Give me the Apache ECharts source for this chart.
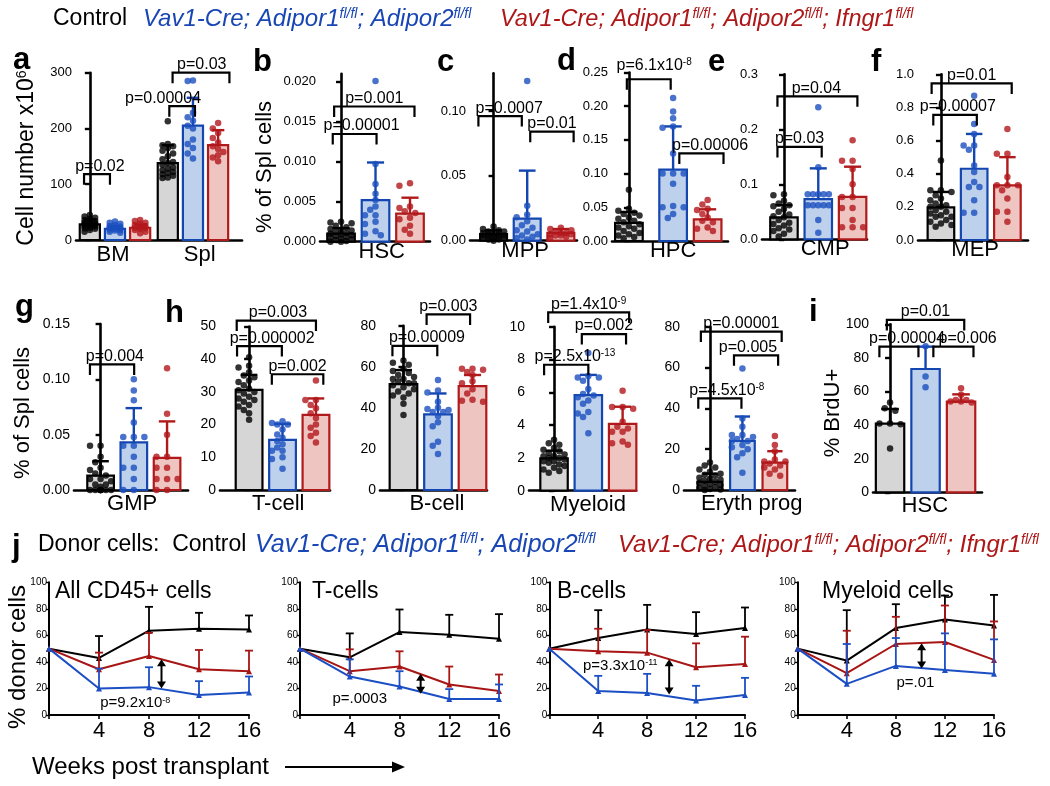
<!DOCTYPE html>
<html><head><meta charset="utf-8">
<script src="https://cdn.jsdelivr.net/npm/echarts@6/dist/echarts.min.js"></script>
<style>html,body{margin:0;padding:0;background:#fff}#c{width:1050px;height:786px}</style>
</head><body><div id="c"></div><script>
// ---------------- DATA ----------------
// Groups: 0 = Control, 1 = Vav1-Cre; Adipor1/2 (blue), 2 = + Ifngr1 (red)
// a: cell number x10^6
const aCategories = ['BM', 'Spl'];
const aMeans = [28, 20, 22, 138, 205, 170];
const aSDs = [9, 5, 6, 32, 50, 27];
const aDots = [
  [45, 42, 40, 38, 36, 34, 32, 31, 30, 29, 28, 27, 26, 25, 24, 22, 21, 20, 18, 15],
  [33, 31, 29, 27, 25, 24, 23, 22, 21, 20, 19, 18, 17, 15, 13],
  [36, 34, 31, 29, 27, 25, 23, 22, 21, 20, 18, 15, 12],
  [213, 172, 170, 168, 165, 160, 155, 150, 145, 140, 138, 135, 130, 128, 125, 122, 120, 118, 115, 112, 111],
  [286, 285, 228, 220, 214, 205, 200, 180, 172, 165, 155, 146],
  [210, 200, 192, 183, 175, 168, 163, 158, 152, 148, 141]
];
const aBrackets = [[0, 1, 118, 'p=0.02'], [3, 4, 240, 'p=0.00004'], [3, 5, 300, 'p=0.03']];

// b: HSC % of Spl cells
const bCategory = ['HSC'];
const bMeans = [0.001, 0.0052, 0.0035];
const bSDs = [0.0007, 0.0047, 0.002];
const bDots = [
  [0.0025, 0.0024, 0.0023, 0.002, 0.0018, 0.0016, 0.0015, 0.0014, 0.0012, 0.0011, 0.001, 0.0009, 0.0008, 0.0007, 0.0006, 0.0005, 0.0004, 0.0003, 0.0002, 0.0001, 0.0, 0.0],
  [0.0201, 0.0097, 0.0072, 0.006, 0.0052, 0.0044, 0.004, 0.0033, 0.0033, 0.0025, 0.0022, 0.0013, 0.001, 0.0008],
  [0.0073, 0.007, 0.0044, 0.0042, 0.0038, 0.0036, 0.003, 0.0028, 0.002, 0.0015, 0.001]
];
const bBrackets = [[0, 1, 0.01346, 'p=0.00001'], [0, 2, 0.0169, 'p=0.001']];

// c: MPP
const cCategory = ['MPP'];
const cMeans = [0.005, 0.017, 0.006];
const cSDs = [0.003, 0.037, 0.003];
const cDots = [
  [0.011, 0.009, 0.008, 0.007, 0.007, 0.006, 0.006, 0.005, 0.005, 0.004, 0.004, 0.004, 0.003, 0.003, 0.002, 0.002, 0.002, 0.001, 0.001, 0.0],
  [0.123, 0.027, 0.02, 0.018, 0.015, 0.012, 0.01, 0.008, 0.007, 0.005, 0.004, 0.003, 0.002, 0.001],
  [0.01, 0.009, 0.008, 0.007, 0.006, 0.006, 0.005, 0.005, 0.004, 0.004, 0.003, 0.002]
];
const cBrackets = [[0, 1, 0.096, 'p=0.0007'], [1, 2, 0.084, 'p=0.01']];

// d: HPC
const dCategory = ['HPC'];
const dMeans = [0.027, 0.106, 0.032];
const dSDs = [0.016, 0.064, 0.015];
const dDots = [
  [0.076, 0.048, 0.045, 0.042, 0.04, 0.038, 0.035, 0.033, 0.03, 0.028, 0.025, 0.022, 0.02, 0.018, 0.015, 0.012, 0.01, 0.008, 0.006, 0.004],
  [0.212, 0.192, 0.182, 0.17, 0.168, 0.13, 0.1, 0.1, 0.1, 0.085, 0.052, 0.05, 0.05, 0.04, 0.034],
  [0.061, 0.054, 0.048, 0.046, 0.04, 0.035, 0.03, 0.028, 0.02, 0.018, 0.015]
];
const dBrackets = [[0, 1, 0.24, 'p=6.1x10{s|-8}'], [1, 2, 0.13, 'p=0.00006']];

// e: CMP
const eCategory = ['CMP'];
const eMeans = [0.04, 0.073, 0.077];
const eSDs = [0.022, 0.056, 0.055];
const eDots = [
  [0.082, 0.08, 0.07, 0.065, 0.062, 0.06, 0.055, 0.05, 0.045, 0.042, 0.04, 0.035, 0.03, 0.028, 0.025, 0.02, 0.018, 0.015, 0.01, 0.005],
  [0.24, 0.131, 0.082, 0.082, 0.082, 0.082, 0.082, 0.062, 0.062, 0.062, 0.062, 0.062, 0.035, 0.012],
  [0.18, 0.143, 0.143, 0.128, 0.1, 0.077, 0.077, 0.057, 0.057, 0.035, 0.022, 0.022, 0.022]
];
const eBrackets = [[0, 1, 0.168, 'p=0.03'], [0, 2, 0.26, 'p=0.04']];

// f: MEP
const fCategory = ['MEP'];
const fMeans = [0.197, 0.43, 0.33];
const fSDs = [0.093, 0.21, 0.17];
const fDots = [
  [0.48, 0.3, 0.3, 0.29, 0.27, 0.25, 0.24, 0.22, 0.21, 0.2, 0.2, 0.18, 0.17, 0.16, 0.15, 0.14, 0.14, 0.12, 0.11, 0.1, 0.09, 0.08],
  [0.87, 0.7, 0.64, 0.57, 0.57, 0.545, 0.45, 0.41, 0.35, 0.32, 0.32, 0.24, 0.165, 0.165],
  [0.67, 0.52, 0.52, 0.38, 0.33, 0.33, 0.33, 0.3, 0.25, 0.17, 0.17, 0.11]
];
const fBrackets = [[0, 1, 0.755, 'p=0.00007'], [0, 2, 0.945, 'p=0.01']];

// g: GMP
const gCategory = ['GMP'];
const gMeans = [0.013, 0.043, 0.029];
const gSDs = [0.013, 0.031, 0.033];
const gDots = [
  [0.04, 0.04, 0.03, 0.025, 0.02, 0.018, 0.015, 0.013, 0.01, 0.01, 0.008, 0.005, 0.005, 0.003, 0.0, 0.0, 0.0, 0.0, 0.0, 0.0, 0.0, 0.0],
  [0.1, 0.09, 0.081, 0.061, 0.048, 0.048, 0.048, 0.04, 0.04, 0.03, 0.02, 0.02, 0.01, 0.0, 0.0],
  [0.11, 0.069, 0.05, 0.03, 0.03, 0.02, 0.02, 0.01, 0.01, 0.01, 0.0, 0.0]
];
const gBrackets = [[0, 1, 0.1135, 'p=0.004']];

// h: T-cell, B-cell, Myeloid, Eryth prog
const tCategory = ['T-cell'];
const tMeans = [30.6, 15.3, 23];
const tSDs = [4.6, 4.9, 5];
const tDots = [
  [40.6, 38, 37.5, 36, 35, 34.5, 33.5, 33, 32, 31, 30.5, 30, 29.5, 28.5, 28, 27.5, 27, 26, 25.5, 24.5, 23.5, 21.5],
  [21, 20.5, 20, 20, 18.5, 17, 16, 15, 14, 13, 12, 12, 10, 9.5, 6.5],
  [33.5, 27.5, 27.5, 26, 25, 23.5, 22, 20, 19, 17.5, 16.5, 14.5]
];
const tBrackets = [[0, 2, 51.8, 'p=0.003'], [0, 1, 44, 'p=0.000002'], [1, 2, 35.4, 'p=0.002']];

const bcCategory = ['B-cell'];
const bcMeans = [51.6, 36.8, 50.6];
const bcSDs = [6.8, 10.2, 5.4];
const bcDots = [
  [63, 62, 61, 59, 58, 57, 56, 55, 54, 54, 53, 52, 52, 51, 50, 49, 48, 47, 46, 45, 42, 36.5],
  [53.5, 48.5, 47.5, 43, 40, 39.5, 39, 38, 38, 36, 33, 31, 23.5, 21.5, 17.5],
  [59, 59, 58.5, 57.5, 56, 53, 52, 49, 47, 44, 43.5, 43]
];
const bcBrackets = [[0, 1, 70.2, 'p=0.00009'], [1, 2, 85.5, 'p=0.003']];

const myCategory = ['Myeloid'];
const myMeans = [1.97, 5.83, 4.07];
const mySDs = [0.47, 1.23, 1.05];
const myDots = [
  [3.1, 2.9, 2.8, 2.6, 2.5, 2.4, 2.3, 2.2, 2.1, 2.1, 2.0, 2.0, 1.9, 1.8, 1.8, 1.7, 1.6, 1.5, 1.4, 1.3, 1.2, 1.1],
  [8.4, 7.0, 6.9, 6.9, 6.7, 6.2, 5.9, 5.8, 5.7, 5.5, 5.3, 4.8, 4.7, 4.5, 3.5],
  [6.1, 5.1, 5.1, 5.0, 4.2, 3.9, 3.8, 3.6, 3.6, 3.0, 2.9, 2.8]
];
const myBrackets = [[0, 1, 7.68, 'p=2.5x10{s|-13}'], [1, 2, 9.55, 'p=0.002'], [0, 2, 10.87, 'p=1.4x10{s|-9}']];

const erCategory = ['Eryth prog'];
const erMeans = [4, 24, 13.4];
const erSDs = [4, 12, 5.6];
const erDots = [
  [13.5, 12, 11, 10, 9, 8, 7.5, 7, 6, 5.5, 5, 4.5, 4, 3.5, 3, 2.5, 2, 1.5, 1, 0.5, 0.2, 0],
  [59.5, 35, 31, 27, 27, 26, 25, 24, 24, 22, 21, 20, 18, 16, 8.5],
  [26.5, 22, 19, 15, 14, 14, 13, 12, 11, 10, 8, 7]
];
const erBrackets = [[0, 1, 44.9, 'p=4.5x10{s|-8}'], [1, 2, 66, 'p=0.005'], [0, 2, 77.6, 'p=0.00001']];

// i: HSC % BrdU+
const iCategory = ['HSC'];
const iMeans = [40.9, 73.4, 54];
const iSDs = [8.7, 13.3, 4.3];
const iDots = [
  [53.5, 50, 48.5, 41, 41, 40.5, 26],
  [87, 69, 62.5],
  [62, 58, 55, 55, 54, 54, 53.5]
];
const iBrackets = [[0, 1, 86.7, 'p=0.00004'], [1, 2, 86.7, 'p=0.006'], [0, 2, 102.6, 'p=0.01']];

// j: % donor cells over weeks post transplant
const weeks = [0, 4, 8, 12, 16];
const cd45Ctrl = [50, 43, 63.5, 65, 64.5], cd45CtrlSD = [0, 16.5, 18, 12, 10.5];
const cd45Tko = [50, 34.5, 44.5, 34.5, 33], cd45TkoSD = [0, 12.5, 17.5, 14.5, 15.5];
const cd45Dko = [50, 20, 21, 15, 17], cd45DkoSD = [0, 15, 15, 10.5, 12];
const cd45Arrow = [9, 42, 20], cd45P = [6.9, 9, 'p=9.2x10{s|-8}'];

const tcCtrl = [50, 43.5, 62.5, 60.5, 57.5], tcCtrlSD = [0, 18, 17, 15, 18.5];
const tcTko = [50, 33, 36.5, 23, 18], tcTkoSD = [0, 16.5, 11.5, 13.5, 12.5];
const tcDko = [50, 29, 21.5, 12, 12], tcDkoSD = [0, 13, 11.5, 7.5, 11];
const tcArrow = [9.7, 31, 16], tcP = [4.8, 12, 'p=.0003'];

const bcellCtrl = [50, 58, 64.5, 61, 65.5], bcellCtrlSD = [0, 21, 18.5, 16.5, 15.5];
const bcellTko = [50, 48, 47, 36, 38.5], bcellTkoSD = [0, 17, 17, 18, 20.5];
const bcellDko = [50, 18, 16.5, 11, 15], bcellDkoSD = [0, 11.5, 14.5, 11, 13];
const bcellArrow = [9.8, 42, 15.5], bcellP = [5.8, 37, 'p=3.3x10{s|-11}'];

const myeCtrl = [50, 41, 65.5, 72, 67.5], myeCtrlSD = [0, 38, 18, 18, 23];
const myeTko = [50, 31.5, 53.5, 55, 41.5], myeTkoSD = [0, 32, 20.5, 27.5, 29];
const myeDko = [50, 23.5, 37, 34, 31], myeDkoSD = [0, 30, 21, 27.5, 26];
const myeArrow = [10.1, 54, 35], myeP = [9.6, 24, 'p=.01'];

// ---------------- STYLE ----------------
const FONT = '"Liberation Sans", Arial, Helvetica, sans-serif';
const BLUE = '#1846b4', RED = '#ad1717';
const FILLS = ['#d6d6d6', '#bdd0ec', '#efc5c1'];
const STROKES = ['#000000', '#1446b0', '#b01a1a'];
const DOTCOL = ['#000000', '#1a4fbf', '#b3161b'];
const LINECOL = ['#000000', '#a81515', '#1c4fc4'];

const option = {animation: false, backgroundColor: '#fff', grid: [], xAxis: [], yAxis: [], series: [], graphic: []};

function supRich(size) {
  return {s: {fontSize: size, fontFamily: FONT, fill: '#000', verticalAlign: 'top'}};
}

// beeswarm-style horizontal placement of dots (layout only)
function swarm(vals, cx, pxX, pxY, maxOff) {
  const order = vals.map((v, i) => i).sort((a, b) => vals[b] - vals[a]);
  const D = 6.6, placed = [], out = new Array(vals.length);
  const cands = [0];
  for (let k = 1; k < 8; k++) cands.push(-k * D * 0.8, k * D * 0.8);
  for (const i of order) {
    const y = vals[i] * pxY;
    let best = 0, bestScore = -1;
    for (const c of cands) {
      if (Math.abs(c) > maxOff) continue;
      let md = Infinity;
      for (const q of placed) { const d = Math.hypot(q[0] - c, q[1] - y); if (d < md) md = d; }
      if (md >= D * 0.9) { best = c; break; }
      if (md > bestScore) { bestScore = md; best = c; }
    }
    placed.push([best, y]);
    out[i] = [cx + best / pxX, vals[i]];
  }
  return out;
}

function addBarPanel(L, cats, means, sds, dots, brackets) {
  const k = option.grid.length;
  option.grid.push({left: L.left, top: L.top, width: L.width, height: L.height});
  option.xAxis.push({type: 'value', gridIndex: k, min: L.xMin, max: L.xMax,
    axisLine: {show: true, onZero: false, lineStyle: {color: '#000', width: 2.6}},
    axisTick: {show: false}, axisLabel: {show: false}, splitLine: {show: false}});
  option.yAxis.push({type: 'value', gridIndex: k, min: 0, max: L.yMax,
    axisLine: {show: true, lineStyle: {color: '#000', width: 2.6}},
    axisTick: {show: true, length: 5, lineStyle: {color: '#000', width: 2.4}, customValues: L.ticks},
    axisLabel: {show: true, customValues: L.ticks, formatter: v => Number(v).toFixed(L.dec),
      fontSize: L.fs, fontFamily: FONT, color: '#000', margin: 4},
    splitLine: {show: false}});
  const pxX = L.width / (L.xMax - L.xMin), pxY = L.height / L.yMax, hw = L.hw;
  const barData = L.xs.map((x, i) => [x, means[i], sds[i], i % 3]);
  const common = {xAxisIndex: k, yAxisIndex: k, coordinateSystem: 'cartesian2d', silent: true, clip: false};
  option.series.push(Object.assign({}, common, {type: 'custom', z: 2, data: barData,
    renderItem: (p, api) => {
      const x = api.value(0), m = api.value(1), g = api.value(3);
      const a = api.coord([x - hw, 0]), b = api.coord([x + hw, m]);
      return {type: 'rect', shape: {x: a[0], y: b[1], width: b[0] - a[0], height: a[1] - b[1]},
        style: {fill: FILLS[g], stroke: STROKES[g], lineWidth: 2.2}};
    }}));
  option.series.push(Object.assign({}, common, {type: 'custom', z: 3, data: barData,
    renderItem: (p, api) => {
      const x = api.value(0), m = api.value(1), sd = api.value(2), g = api.value(3);
      const p0 = api.coord([x, m]), p1 = api.coord([x, m + sd]);
      const cw = hw * 0.62 * pxX;
      return {type: 'group', children: [
        {type: 'line', shape: {x1: p0[0], y1: p0[1], x2: p1[0], y2: p1[1]}, style: {stroke: STROKES[g], lineWidth: 2.4}},
        {type: 'line', shape: {x1: p1[0] - cw, y1: p1[1], x2: p1[0] + cw, y2: p1[1]}, style: {stroke: STROKES[g], lineWidth: 2.4}}
      ]};
    }}));
  dots.forEach((vals, i) => {
    option.series.push(Object.assign({}, common, {type: 'scatter', z: 4, symbol: 'circle', symbolSize: 6.5,
      itemStyle: {color: DOTCOL[i % 3], borderWidth: 0},
      data: swarm(vals, L.xs[i], pxX, pxY, hw * pxX - 1.5)}));
  });
  const items = brackets.map((b, j) => {
    const lay = L.bl[j];
    const x1 = L.xs[b[0]] + lay[0], x2 = L.xs[b[1]] + lay[1];
    return {x1, x2, y: b[2], lx: (x1 + x2) / 2 + lay[2], dy: lay[3], label: b[3]};
  });
  option.series.push(Object.assign({}, common, {type: 'custom', z: 5, data: items.map(b => [b.x1, b.y]),
    renderItem: (p, api) => {
      const b = items[p.dataIndex];
      const l = api.coord([b.x1, b.y]), r = api.coord([b.x2, b.y]), t = api.coord([b.lx, b.y]);
      const leg = 10.5;
      return {type: 'group', children: [
        {type: 'polyline', shape: {points: [[l[0], l[1] + leg], [l[0], l[1]], [r[0], r[1]], [r[0], r[1] + leg]]},
          style: {stroke: '#000', lineWidth: 2.2, fill: null}},
        {type: 'text', x: t[0], y: t[1] - 8 + b.dy,
          style: {text: b.label, fontSize: 16, fontFamily: FONT, fill: '#000', align: 'center', verticalAlign: 'middle',
            textAlign: 'center', textVerticalAlign: 'middle', rich: supRich(10)}}
      ]};
    }}));
  const catItems = cats.map((c, j) => ({x: L.cx[j], label: c}));
  option.series.push(Object.assign({}, common, {type: 'custom', z: 5, data: catItems.map(c => [c.x, 0]),
    renderItem: (p, api) => {
      const c = catItems[p.dataIndex];
      const q = api.coord([c.x, 0]);
      return {type: 'text', x: q[0], y: q[1] + L.catDy,
        style: {text: c.label, fontSize: 22, fontFamily: FONT, fill: '#000', align: 'center', verticalAlign: 'middle',
          textAlign: 'center', textVerticalAlign: 'middle'}};
    }}));
}

function addLinePanel(L, groups, arrow, pLab) {
  const k = option.grid.length;
  option.grid.push({left: L.left, top: L.top, width: L.width, height: L.height});
  option.xAxis.push({type: 'value', gridIndex: k, min: 0, max: 16, interval: 4,
    axisLine: {show: true, onZero: false, lineStyle: {color: '#000', width: 2}},
    axisTick: {show: true, length: 4, lineStyle: {color: '#000', width: 1.6}},
    axisLabel: {show: true, formatter: v => (v === 0 ? '' : String(v)), fontSize: 22, fontFamily: FONT, color: '#000', margin: 5},
    splitLine: {show: false}});
  option.yAxis.push({type: 'value', gridIndex: k, min: 0, max: 100, interval: 20,
    axisLine: {show: true, lineStyle: {color: '#000', width: 2}},
    axisTick: {show: true, length: 3, lineStyle: {color: '#000', width: 1.4}},
    axisLabel: {show: true, fontSize: 10, fontFamily: FONT, color: '#000', margin: 2},
    splitLine: {show: false}});
  const common = {xAxisIndex: k, yAxisIndex: k, coordinateSystem: 'cartesian2d', silent: true, clip: false};
  groups.forEach((g, gi) => {
    const col = LINECOL[gi];
    option.series.push(Object.assign({}, common, {type: 'custom', z: 3 + gi,
      data: weeks.map((w, i) => [w, g[0][i], g[1][i]]),
      renderItem: (p, api) => {
        const sd = api.value(2);
        if (!sd) return null;
        const a = api.coord([api.value(0), api.value(1)]), b = api.coord([api.value(0), api.value(1) + sd]);
        return {type: 'group', children: [
          {type: 'line', shape: {x1: a[0], y1: a[1], x2: b[0], y2: b[1]}, style: {stroke: col, lineWidth: 1.8}},
          {type: 'line', shape: {x1: b[0] - 4, y1: b[1], x2: b[0] + 4, y2: b[1]}, style: {stroke: col, lineWidth: 1.8}}
        ]};
      }}));
    option.series.push(Object.assign({}, common, {type: 'line', z: 3 + gi,
      data: weeks.map((w, i) => [w, g[0][i]]),
      symbol: 'triangle', symbolSize: 6, showSymbol: true,
      lineStyle: {color: col, width: 2}, itemStyle: {color: col}}));
  });
  option.series.push(Object.assign({}, common, {type: 'custom', z: 8, data: [arrow],
    renderItem: (p, api) => {
      const a = api.coord([api.value(0), api.value(1)]), b = api.coord([api.value(0), api.value(2)]);
      const h = 7, w = 4.5;
      return {type: 'group', children: [
        {type: 'line', shape: {x1: a[0], y1: a[1] + h - 1, x2: b[0], y2: b[1] - h + 1}, style: {stroke: '#000', lineWidth: 2}},
        {type: 'polygon', shape: {points: [[a[0], a[1]], [a[0] - w, a[1] + h], [a[0] + w, a[1] + h]]}, style: {fill: '#000'}},
        {type: 'polygon', shape: {points: [[b[0], b[1]], [b[0] - w, b[1] - h], [b[0] + w, b[1] - h]]}, style: {fill: '#000'}}
      ]};
    }}));
  option.series.push(Object.assign({}, common, {type: 'custom', z: 8, data: [[pLab[0], pLab[1]]],
    renderItem: (p, api) => {
      const q = api.coord([api.value(0), api.value(1)]);
      return {type: 'text', x: q[0], y: q[1],
        style: {text: pLab[2], fontSize: 15, fontFamily: FONT, fill: '#000', align: 'center', verticalAlign: 'middle',
          textAlign: 'center', textVerticalAlign: 'middle', rich: supRich(9)}};
    }}));
}

// ---------------- LAYOUT ----------------
const row1 = {fs: 13, hw: 0.4, catDy: 10, xs: [0, 1, 2]};
const row2 = {fs: 14, hw: 0.4, catDy: 14, xs: [0, 1, 2]};
addBarPanel(Object.assign({}, row1, {left: 76, top: 72.7, width: 166, height: 167.3, xMin: -0.55, xMax: 6.05, yMax: 300,
  ticks: [0, 100, 200, 300], dec: 0, catDy: 15, xs: [0, 1, 2, 3.1, 4.1, 5.1], cx: [0.92, 4.37],
  bl: [[-0.23, -0.2, 0.115, 0], [0.06, 0.08, -0.76, 0], [0.19, 0.45, 0.03, 0]]}),
  aCategories, aMeans, aSDs, aDots, aBrackets);
addBarPanel(Object.assign({}, row1, {left: 320, top: 73.7, width: 110, height: 168, xMin: -0.61, xMax: 2.58, yMax: 0.021,
  ticks: [0, 0.005, 0.01, 0.015, 0.02], dec: 3, cx: [1.18], bl: [[-0.24, 0.03, 0.2, 0], [-0.2, 0.13, 0, 0]]}),
  bCategory, bMeans, bSDs, bDots, bBrackets);
addBarPanel(Object.assign({}, row1, {left: 470, top: 73.3, width: 107, height: 167.4, xMin: -0.7, xMax: 2.48, yMax: 0.129,
  ticks: [0, 0.05, 0.1], dec: 2, cx: [0.94], bl: [[-0.45, -0.16, 0.27, 0], [0.09, 0.38, 0, 0]]}),
  cCategory, cMeans, cSDs, cDots, cBrackets);
addBarPanel(Object.assign({}, row1, {left: 612, top: 72.5, width: 116, height: 168.5, xMin: -0.49, xMax: 2.87, yMax: 0.25,
  ticks: [0, 0.05, 0.1, 0.15, 0.2, 0.25], dec: 2, xs: [0, 1.28, 2.28], cx: [1.28],
  bl: [[-0.06, -0.07, 0.155, -6], [0.18, 0.46, 0.25, 0]]}),
  dCategory, dMeans, dSDs, dDots, dBrackets);
addBarPanel(Object.assign({}, row1, {left: 762, top: 74.3, width: 105, height: 165, xMin: -0.64, xMax: 2.42, yMax: 0.3,
  ticks: [0, 0.1, 0.2, 0.3], dec: 1, cx: [1.2], bl: [[-0.19, 0.1, 0, 0], [-0.19, 0.14, -0.03, 0]]}),
  eCategory, eMeans, eSDs, eDots, eBrackets);
addBarPanel(Object.assign({}, row1, {left: 918, top: 74.3, width: 110, height: 165.7, xMin: -0.69, xMax: 2.62, yMax: 1.0,
  ticks: [0, 0.2, 0.4, 0.6, 0.8, 1.0], dec: 1, cx: [1.03], bl: [[-0.23, 0.08, 0.085, 0], [-0.28, 0.13, 0, 0]]}),
  fCategory, fMeans, fSDs, fDots, fBrackets);
addBarPanel(Object.assign({}, row2, {left: 74, top: 324, width: 114, height: 166, xMin: -0.8, xMax: 2.63, yMax: 0.15,
  ticks: [0, 0.05, 0.1, 0.15], dec: 2, cx: [0.95], bl: [[-0.32, 0.01, 0.085, 0]]}),
  gCategory, gMeans, gSDs, gDots, gBrackets);
addBarPanel(Object.assign({}, row2, {left: 220, top: 326.5, width: 110, height: 163.5, xMin: -0.87, xMax: 2.42, yMax: 50,
  ticks: [0, 10, 20, 30, 40, 50], dec: 0, cx: [0.87], bl: [[-0.37, 0, 0.05, 0], [-0.36, -0.02, 0.38, 0], [-0.32, 0.22, 0, 0]]}),
  tCategory, tMeans, tSDs, tDots, tBrackets);
addBarPanel(Object.assign({}, row2, {left: 380, top: 325.7, width: 107, height: 164.3, xMin: -0.68, xMax: 2.42, yMax: 80,
  ticks: [0, 20, 40, 60, 80], dec: 0, cx: [0.97], bl: [[-0.32, -0.02, 0.35, 0], [-0.33, -0.07, 0, 0]]}),
  bcCategory, bcMeans, bcSDs, bcDots, bcBrackets);
addBarPanel(Object.assign({}, row2, {left: 529, top: 326.7, width: 107, height: 164, xMin: -0.73, xMax: 2.39, yMax: 10,
  ticks: [0, 2, 4, 6, 8, 10], dec: 0, cx: [0.99], bl: [[-0.29, 0, 0.255, 0], [-0.19, 0.1, 0, 0], [-0.17, 0.19, 0, 0]]}),
  myCategory, myMeans, mySDs, myDots, myBrackets);
addBarPanel(Object.assign({}, row2, {left: 684, top: 326.7, width: 111, height: 163.3, xMin: -0.8, xMax: 2.62, yMax: 80,
  hw: 0.38, ticks: [0, 20, 40, 60, 80], dec: 0, cx: [1.29], bl: [[-0.36, -0.03, 0.215, 0], [-0.26, 0.1, -0.25, 0], [-0.28, 0.21, 0, 0]]}),
  erCategory, erMeans, erSDs, erDots, erBrackets);
addBarPanel(Object.assign({}, row2, {left: 873, top: 324.3, width: 109, height: 168, xMin: -0.48, xMax: 2.59, yMax: 100,
  ticks: [0, 20, 40, 60, 80, 100], dec: 0, cx: [0.98], bl: [[-0.3, -0.2, 0.23, 0], [0.22, 0.35, 0.4, 0], [-0.09, 0.09, 0, 0]]}),
  iCategory, iMeans, iSDs, iDots, iBrackets);

const lineRow = {top: 582.3, height: 132.7};
addLinePanel(Object.assign({}, lineRow, {left: 49, width: 200}),
  [[cd45Ctrl, cd45CtrlSD], [cd45Tko, cd45TkoSD], [cd45Dko, cd45DkoSD]], cd45Arrow, cd45P);
addLinePanel(Object.assign({}, lineRow, {left: 300, width: 199}),
  [[tcCtrl, tcCtrlSD], [tcTko, tcTkoSD], [tcDko, tcDkoSD]], tcArrow, tcP);
addLinePanel(Object.assign({}, lineRow, {left: 549.3, width: 195.7}),
  [[bcellCtrl, bcellCtrlSD], [bcellTko, bcellTkoSD], [bcellDko, bcellDkoSD]], bcellArrow, bcellP);
addLinePanel(Object.assign({}, lineRow, {left: 797.7, width: 196.3}),
  [[myeCtrl, myeCtrlSD], [myeTko, myeTkoSD], [myeDko, myeDkoSD]], myeArrow, myeP);

// ---------------- TEXT GRAPHICS ----------------
function txt(x, y, text, opts) {
  const o = Object.assign({fs: 23, color: '#000', align: 'left', weight: 'normal', italic: false, rot: 0, rich: null}, opts || {});
  const style = {text: text, fontSize: o.fs, fontFamily: FONT, fontWeight: o.weight, fontStyle: o.italic ? 'italic' : 'normal',
    fill: o.color, align: o.align, verticalAlign: 'middle', textAlign: o.align, textVerticalAlign: 'middle'};
  if (o.rich) style.rich = o.rich;
  option.graphic.push({type: 'text', x: x, y: y, rotation: o.rot, silent: true, style: style});
}
function genoRich(color, fs) {
  return {
    i: {fontSize: fs, fontFamily: FONT, fontStyle: 'italic', fill: color},
    s: {fontSize: 14, fontFamily: FONT, fontStyle: 'italic', fill: color, verticalAlign: 'top'}
  };
}
const geno1 = '{i|Vav1-Cre; Adipor1}{s|fl/fl}{i|; Adipor2}{s|fl/fl}';
const geno2 = '{i|Vav1-Cre; Adipor1}{s|fl/fl}{i|; Adipor2}{s|fl/fl}{i|; Ifngr1}{s|fl/fl}';

txt(53, 19, 'Control');
txt(143, 19, geno1, {color: BLUE, rich: genoRich(BLUE, 24)});
txt(500, 19, geno2, {color: RED, rich: genoRich(RED, 23.5)});

const letters = [['a', 13, 60], ['b', 253, 62], ['c', 437, 62], ['d', 557, 61], ['e', 708, 62], ['f', 871, 62],
  ['g', 15, 307], ['h', 165, 313], ['i', 809, 312], ['j', 12, 547]];
letters.forEach(l => txt(l[1], l[2], l[0], {fs: 31, weight: 'bold'}));

txt(27, 158, '{m|Cell number x10}{s|6}', {align: 'center', rot: Math.PI / 2,
  rich: {m: {fontSize: 23, fontFamily: FONT, fill: '#000'}, s: {fontSize: 14, fontFamily: FONT, fill: '#000', verticalAlign: 'top'}}});
txt(265, 167, '% of Spl cells', {align: 'center', rot: Math.PI / 2, fs: 22});
txt(23, 413, '% of Spl cells', {align: 'center', rot: Math.PI / 2, fs: 22});
txt(833, 413, '% BrdU+', {align: 'center', rot: Math.PI / 2, fs: 22});
txt(18, 657, '% donor cells', {align: 'center', rot: Math.PI / 2, fs: 24});

txt(38, 545, 'Donor cells:  Control');
txt(255, 545, geno1, {color: BLUE, rich: genoRich(BLUE, 25)});
txt(618, 545, geno2, {color: RED, rich: genoRich(RED, 24)});

txt(55, 592, 'All CD45+ cells');
txt(312, 592, 'T-cells');
txt(557, 592, 'B-cells');
txt(822, 592, 'Myeloid cells');

txt(32, 767, 'Weeks post transplant', {fs: 24});
option.graphic.push({type: 'line', silent: true, shape: {x1: 285, y1: 767, x2: 394, y2: 767}, style: {stroke: '#000', lineWidth: 2}});
option.graphic.push({type: 'polygon', silent: true, shape: {points: [[392, 761.5], [405, 767], [392, 772.5]]}, style: {fill: '#000'}});

const chart = echarts.init(document.getElementById('c'), null, {renderer: 'canvas'});
chart.setOption(option);
</script></body></html>
